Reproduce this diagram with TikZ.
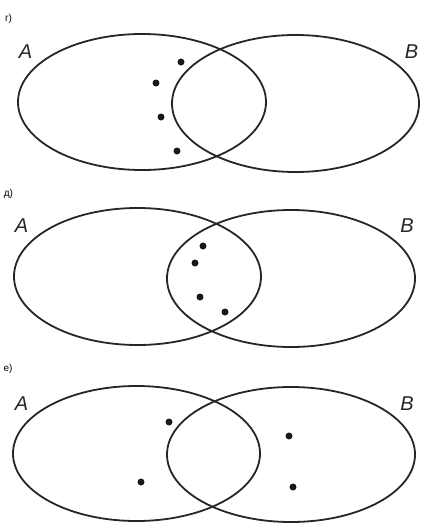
\documentclass[tikz,border=0pt]{standalone}
\usepackage{fontspec}
\setmainfont{Liberation Sans}
\usetikzlibrary{positioning}

\begin{document}
\begin{tikzpicture}[x=1pt, y=-1pt,
  setline/.style={draw=black!85, line width=1.8pt},
  dot/.style={circle, fill=black!90, inner sep=0pt, minimum size=7pt},
  setname/.style={font=\itshape\fontsize{20}{20}\selectfont, text=black!85, inner sep=0pt},
  tag/.style={font=\fontsize{10}{10}\selectfont, inner sep=0pt}]

  \useasboundingbox (0,0) rectangle (427,528);

  % Panel г: dots in A only
  \node[tag] (tg) at (8.5,19) {г)};
  \draw[setline] (142,102) ellipse [x radius=124, y radius=68];
  \draw[setline] (295.5,103.5) ellipse [x radius=123.5, y radius=68.5];
  \node[setname] (ga) at (25.5,51.5) {A};
  \node[setname] (gb) at (411.5,51.5) {B};
  \node[dot] (g1) at (181,62) {};
  \node[dot] (g2) at (156,83) {};
  \node[dot] (g3) at (161,117) {};
  \node[dot] (g4) at (177,151) {};

  % Panel д: dots in the intersection
  \node[tag] (td) at (8.5,194) {д)};
  \draw[setline] (137.5,276.5) ellipse [x radius=123.5, y radius=68.5];
  \draw[setline] (291,278.5) ellipse [x radius=124, y radius=68.5];
  \node[setname] (da) at (21.5,225.5) {A};
  \node[setname] (db) at (407,225.5) {B};
  \node[dot] (d1) at (203,246) {};
  \node[dot] (d2) at (195,263) {};
  \node[dot] (d3) at (200,297) {};
  \node[dot] (d4) at (225,312) {};

  % Panel е: two dots in A only, two in B only
  \node[tag] (te) at (8,369) {е)};
  \draw[setline] (136.5,453.5) ellipse [x radius=123.5, y radius=67.5];
  \draw[setline] (291,454.5) ellipse [x radius=124, y radius=67.5];
  \node[setname] (ea) at (21.5,403.5) {A};
  \node[setname] (eb) at (407,403.5) {B};
  \node[dot] (e1) at (169,422) {};
  \node[dot] (e2) at (141,482) {};
  \node[dot] (e3) at (289,436) {};
  \node[dot] (e4) at (293,487) {};

\end{tikzpicture}
\end{document}
